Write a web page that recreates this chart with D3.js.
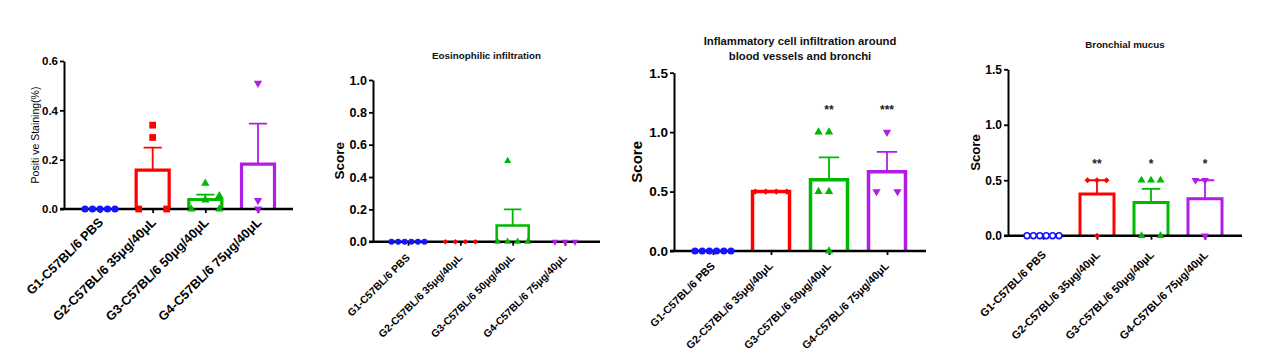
<!DOCTYPE html>
<html>
<head>
<meta charset="utf-8">
<script src="https://cdn.jsdelivr.net/npm/d3@7"></script>
<style>
  html, body { margin: 0; padding: 0; background: #fff; }
  svg { display: block; font-family: Arial, "Liberation Sans", sans-serif; }
</style>
</head>
<body>
<svg id="chart" width="1263" height="355"></svg>
<script>
// ---------------- data ----------------
const categories = ["G1-C57BL/6 PBS", "G2-C57BL/6 35μg/40μL", "G3-C57BL/6 50μg/40μL", "G4-C57BL/6 75μg/40μL"];
const groupColors = ["#1414ff", "#ff0000", "#00b800", "#b01ee6"];
const groupSymbols = ["circle", "square", "triangle", "invTriangle"];

// Panel 1: Positive Staining (%)
const p1Values = [[0, 0, 0, 0, 0], [0.34, 0.29, 0, 0], [0.104, 0.036, 0.053, 0, 0], [0.51, 0.035, 0]];
const p1Slots  = [[-2, -1, 0, 1, 2], [0, 0, -2, 2], [0, 0, 2, -2, 2], [0, 0, 0]];
const p1Ticks  = [0, 0.2, 0.4, 0.6];
const p1Sig    = ["", "", "", ""];

// Panel 2: Eosinophilic infiltration
const p2Values = [[0, 0, 0, 0, 0, 0], [0, 0, 0, 0], [0.5, 0, 0, 0, 0], [0, 0, 0]];
const p2Slots  = [[-2.5, -1.5, -0.5, 0.5, 1.5, 2.5], [-1.5, -0.5, 0.5, 1.5], [-0.5, -1.5, -0.5, 0.5, 1.5], [-1, 0, 1]];
const p2Ticks  = [0, 0.2, 0.4, 0.6, 0.8, 1.0];
const p2Sig    = ["", "", "", ""];

// Panel 3: Inflammatory cell infiltration
const p3Values = [[0, 0, 0, 0, 0, 0], [0.5, 0.5, 0.5, 0.5], [1, 1, 0.5, 0.5, 0], [1, 0.5, 0.5]];
const p3Slots  = [[-2.5, -1.5, -0.5, 0.5, 1.5, 2.5], [-1.5, -0.5, 0.5, 1.5], [-1, 0, -1, 0, 0], [0, -1, 1]];
const p3Ticks  = [0, 0.5, 1.0, 1.5];
const p3Sig    = ["", "", "**", "***"];

// Panel 4: Bronchial mucus
const p4Values = [[0, 0, 0, 0, 0, 0], [0.5, 0.5, 0.5, 0], [0.5, 0.5, 0.5, 0, 0], [0.5, 0.5, 0]];
const p4Slots  = [[-2.5, -1.5, -0.5, 0.5, 1.5, 2.5], [-1, 0, 1, 0], [-1, 0, 1, -1, 1], [-1, 0, 0]];
const p4Ticks  = [0, 0.5, 1.0, 1.5];
const p4Sig    = ["", "**", "*", "*"];

// ---------------- layout ----------------
const panels = [
  { values: p1Values, slots: p1Slots, ticks: p1Ticks, sig: p1Sig, max: 0.6,
    left: 64, right: 293, top: 61, bottom: 209, c0: 100, c3: 258, barW: 33,
    barSW: 3.2, errSW: 1.8, circStep: 7.5, markStep: 7, symScale: 1.0, openCircles: false,
    tickFont: 11.5, yLabel: "Positi ve Staining(%)", yLabelBold: false, yLabelSize: 10.5, yLabelX: 35,
    xFont: 12.8, xLabDX: 1, xLabDY: 11,
    title: [], titleSize: 10, titleY: 0, sigY: 0 },
  { values: p2Values, slots: p2Slots, ticks: p2Ticks, sig: p2Sig, max: 1.0,
    left: 373, right: 600, top: 80, bottom: 241.7, c0: 408, c3: 565, barW: 32,
    barSW: 2.5, errSW: 1.8, circStep: 6.6, markStep: 10, symScale: 0.85, openCircles: false,
    tickFont: 12.5, yLabel: "Score", yLabelBold: true, yLabelSize: 13.5, yLabelX: 339,
    xFont: 10.4, xLabDX: 0, xLabDY: 14,
    title: ["Eosinophilic infiltration"], titleSize: 9.8, titleY: 58.5, sigY: 0 },
  { values: p3Values, slots: p3Slots, ticks: p3Ticks, sig: p3Sig, max: 1.5,
    left: 674, right: 926, top: 72.7, bottom: 251, c0: 713, c3: 887, barW: 37,
    barSW: 3.5, errSW: 1.8, circStep: 7.2, markStep: 10.5, symScale: 1.0, openCircles: false,
    tickFont: 13.5, yLabel: "Score", yLabelBold: true, yLabelSize: 15, yLabelX: 637,
    xFont: 10.8, xLabDX: 0, xLabDY: 13,
    title: ["Inflammatory cell infiltration around", "blood vessels and bronchi"], titleSize: 11.3, titleY: 44.5, sigY: 114 },
  { values: p4Values, slots: p4Slots, ticks: p4Ticks, sig: p4Sig, max: 1.5,
    left: 1008, right: 1242, top: 69.3, bottom: 235.7, c0: 1043, c3: 1205, barW: 34,
    barSW: 3, errSW: 1.8, circStep: 6.4, markStep: 9.5, symScale: 0.95, openCircles: true,
    tickFont: 12, yLabel: "Score", yLabelBold: true, yLabelSize: 13.2, yLabelX: 975,
    xFont: 11, xLabDX: 1, xLabDY: 17,
    title: ["Bronchial mucus"], titleSize: 9.8, titleY: 47.5, sigY: 168 }
];

const svg = d3.select("#chart");

function symbolPath(kind, scale) {
  if (kind === "circle") return d3.symbol(d3.symbolCircle, 40 * scale * scale)();
  if (kind === "square") return d3.symbol(d3.symbolSquare, 46 * scale * scale)();
  if (kind === "diamond") return d3.symbol(d3.symbolSquare, 20 * scale * scale)();
  return d3.symbol(d3.symbolTriangle, 30 * scale * scale)();
}

panels.forEach((P, pi) => {
  const g = svg.append("g");
  const x = d3.scalePoint().domain(categories).range([P.c0, P.c3]);
  const y = d3.scaleLinear().domain([0, P.max]).range([P.bottom, P.top]);

  const stats = P.values.map(v => {
    const m = d3.mean(v);
    const sem = v.length > 1 ? d3.deviation(v) / Math.sqrt(v.length) : 0;
    return { mean: m, sem: sem };
  });

  // bars
  stats.forEach((s, i) => {
    if (s.mean <= 0) return;
    const cx = x(categories[i]);
    const x0 = cx - P.barW / 2, x1 = cx + P.barW / 2;
    g.append("path")
      .attr("d", `M${x0},${y(0)}V${y(s.mean)}H${x1}V${y(0)}`)
      .attr("fill", "none")
      .attr("stroke", groupColors[i])
      .attr("stroke-width", P.barSW);
    if (s.sem > 1e-9) {
      const top = y(s.mean + s.sem);
      const capW = P.barW * 0.55;
      g.append("path")
        .attr("d", `M${cx},${y(s.mean)}V${top}M${cx - capW / 2},${top}H${cx + capW / 2}`)
        .attr("fill", "none")
        .attr("stroke", groupColors[i])
        .attr("stroke-width", P.errSW);
    }
  });

  // y axis
  const yAxis = d3.axisLeft(y).tickValues(P.ticks).tickFormat(d3.format(".1f"))
    .tickSize(4).tickSizeOuter(0).tickPadding(2);
  const ya = g.append("g").attr("transform", `translate(${P.left},0)`).call(yAxis);
  ya.select(".domain").attr("stroke", "#000").attr("stroke-width", 2);
  ya.selectAll(".tick line").attr("stroke", "#000").attr("stroke-width", 1.8);
  ya.selectAll(".tick text").attr("fill", "#000").attr("font-weight", "bold")
    .attr("font-size", P.tickFont).attr("font-family", "Arial, 'Liberation Sans', sans-serif");

  // x axis
  const xAxis = d3.axisBottom(x).tickSize(4).tickSizeOuter(0).tickFormat("");
  const xa = g.append("g").attr("transform", `translate(0,${y(0)})`).call(xAxis);
  xa.select(".domain").remove();
  xa.selectAll(".tick line").attr("stroke", "#000").attr("stroke-width", 1.8);
  g.append("line")
    .attr("x1", P.left - 4).attr("x2", P.right)
    .attr("y1", y(0)).attr("y2", y(0))
    .attr("stroke", "#000").attr("stroke-width", 2.6);

  // x tick labels
  categories.forEach((c, i) => {
    g.append("text")
      .attr("transform", `translate(${x(c) + P.xLabDX},${y(0) + P.xLabDY}) rotate(-45)`)
      .attr("text-anchor", "end")
      .attr("dy", "0.35em")
      .attr("font-size", P.xFont)
      .attr("font-weight", "bold")
      .attr("fill", "#000")
      .text(c);
  });

  // points
  P.values.forEach((vals, i) => {
    const cx = x(categories[i]);
    const kind = (pi > 0 && i === 1) ? "diamond" : groupSymbols[i];
    const step = kind === "circle" ? P.circStep : P.markStep;
    vals.forEach((v, j) => {
      const px = cx + P.slots[i][j] * step;
      const py = y(v);
      let tr = `translate(${px},${py})`;
      if (kind === "invTriangle") tr += " rotate(180)";
      if (kind === "diamond") tr += " rotate(45)";
      const isOpen = P.openCircles && kind === "circle";
      g.append("path")
        .attr("d", symbolPath(kind, isOpen ? P.symScale * 0.85 : P.symScale))
        .attr("transform", tr)
        .attr("fill", isOpen ? "#fff" : groupColors[i])
        .attr("stroke", isOpen ? groupColors[i] : "none")
        .attr("stroke-width", isOpen ? 1.6 : 0);
    });
  });

  // significance
  P.sig.forEach((s, i) => {
    if (!s) return;
    g.append("text")
      .attr("x", x(categories[i]))
      .attr("y", P.sigY)
      .attr("text-anchor", "middle")
      .attr("font-size", 12)
      .attr("font-weight", "bold")
      .attr("fill", "#222")
      .text(s);
  });

  // y label
  g.append("text")
    .attr("transform", `translate(${P.yLabelX},${(P.top + P.bottom) / 2}) rotate(-90)`)
    .attr("text-anchor", "middle")
    .attr("dy", "0.35em")
    .attr("font-size", P.yLabelSize)
    .attr("font-weight", P.yLabelBold ? "bold" : "normal")
    .attr("fill", "#000")
    .text(P.yLabel);

  // title
  P.title.forEach((t, k) => {
    g.append("text")
      .attr("x", (P.left + P.right) / 2)
      .attr("y", P.titleY + k * 15.5)
      .attr("text-anchor", "middle")
      .attr("font-size", P.titleSize)
      .attr("font-weight", "bold")
      .attr("fill", "#111")
      .text(t);
  });
});
</script>
</body>
</html>
